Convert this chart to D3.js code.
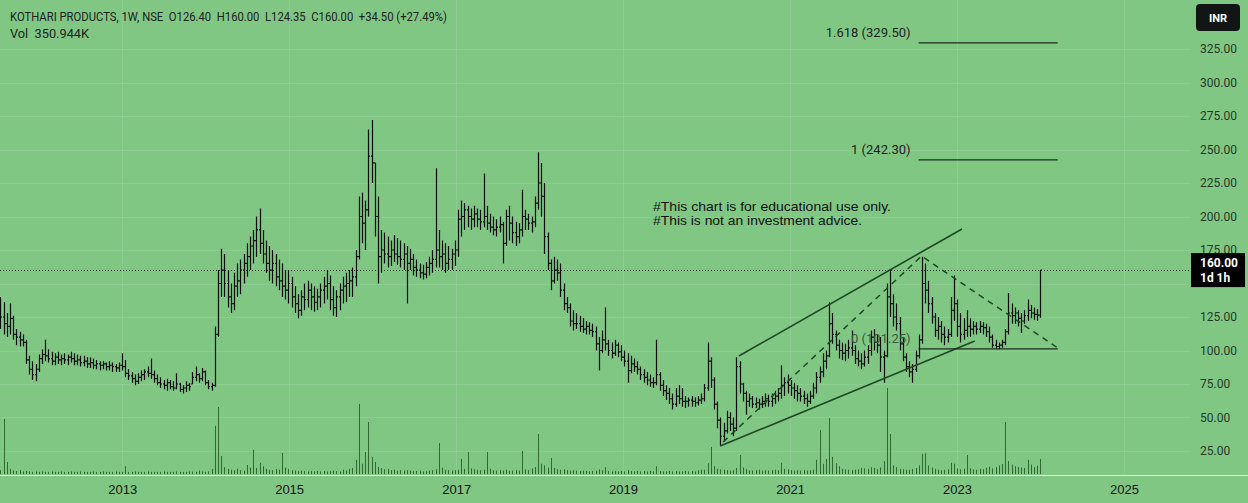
<!DOCTYPE html>
<html><head><meta charset="utf-8">
<script src="https://cdn.jsdelivr.net/npm/d3@7"></script>
<style>
html,body{margin:0;padding:0;background:#81c784;}
svg{display:block;}
</style></head>
<body>
<svg id="chart" width="1248" height="503"></svg>
<script>
// ---------- DATA (bi-weekly OHLC bars) ----------
const firstBarDate = new Date(2011, 6, 18);
const barStepDays = 14;
const highs = [
140,136,128,135,126,116,114,112,108,96,
92,90,97,101,108,101,99,98,99,97,
98,97,99,98,97,96,96,95,95,94,
93,92,92,91,92,91,90,91,98,93,
86,84,82,83,85,86,88,94,85,82,
80,78,79,78,77,83,76,74,77,76,
84,88,83,87,85,78,76,118,160,176,
172,160,150,158,165,168,172,180,185,190,
200,206,190,182,178,175,172,168,165,160,
160,155,148,142,145,150,152,150,148,146,
150,155,160,156,148,145,150,155,158,160,
162,175,215,218,212,265,272,240,215,190,
188,185,182,186,184,182,180,178,176,172,
168,165,164,166,170,175,236,190,182,180,
178,176,182,205,212,210,208,206,208,206,
205,232,208,202,200,198,200,196,205,208,
200,196,195,220,205,202,200,215,248,240,
225,188,168,170,168,165,150,140,135,130,
128,126,124,122,121,120,118,110,115,132,
108,106,108,106,104,100,98,96,94,92,
88,86,84,82,80,108,84,78,74,72,
68,72,74,72,66,65,66,65,66,68,
75,106,95,80,62,50,46,55,54,50,
95,92,76,70,68,66,65,64,66,68,
67,68,70,72,89,80,82,78,76,74,
72,70,68,70,76,84,88,98,100,136,
128,115,108,106,105,108,115,104,100,98,
100,104,115,116,112,110,100,150,160,142,
135,125,110,98,92,90,100,112,170,165,
152,140,128,125,122,118,116,140,156,138,
128,124,130,124,122,121,122,121,120,118,
112,108,106,108,116,143,135,132,130,128,
130,138,134,132,131,160];
const lows = [
116,112,110,112,108,104,103,103,90,82,
78,77,84,90,92,91,89,89,90,89,
90,89,91,89,89,88,88,87,87,86,
86,85,86,85,85,84,84,84,85,80,
78,76,74,75,77,78,80,79,76,74,
72,71,70,71,70,71,69,68,69,70,
75,77,76,77,74,71,70,73,110,140,
140,132,128,130,140,142,150,155,160,165,
170,172,165,158,152,150,148,145,140,138,
135,132,128,124,126,130,132,130,129,130,
132,135,138,130,126,125,130,135,136,140,
140,148,168,180,175,200,225,185,150,158,
165,162,163,166,164,162,160,135,160,156,
155,154,153,154,156,158,162,162,160,158,
160,160,163,170,185,190,192,190,192,192,
190,192,190,188,186,185,188,165,178,182,
180,178,180,185,190,190,188,192,205,200,
172,160,145,150,152,140,130,128,118,115,
116,114,113,112,112,110,100,85,98,100,
96,94,96,95,92,88,76,83,84,82,
78,76,74,73,72,74,70,66,63,60,
56,58,60,58,57,58,58,58,59,60,
62,70,72,56,42,29,32,38,40,36,
40,68,62,52,58,57,57,56,57,58,
58,58,60,62,64,66,68,66,64,62,
62,60,58,60,64,68,76,80,86,95,
105,100,94,93,92,94,96,90,88,86,
88,90,96,100,98,84,76,95,125,118,
115,100,92,84,80,76,84,94,105,135,
128,120,110,108,106,104,106,110,122,110,
106,108,110,110,112,112,113,112,110,106,
102,101,101,102,104,112,120,120,118,113,
120,122,124,123,122,124.35];
const closes = [
125,120,118,124,112,110,108,106,93,86,
82,86,94,97,96,94,92,95,93,94,
93,95,94,92,93,91,92,90,91,89,
90,89,90,88,89,88,87,89,88,83,
81,79,77,80,82,84,83,82,79,76,
75,74,76,73,72,75,71,72,74,73,
80,82,79,84,76,73,74,112,150,160,
150,140,135,148,152,160,165,170,178,182,
190,180,172,165,160,165,155,152,148,145,
150,140,135,130,140,138,145,140,136,140,
145,148,150,138,132,140,145,148,150,152,
155,170,200,195,205,245,240,200,170,175,
172,170,175,172,170,168,172,165,168,162,
160,158,157,162,165,168,175,170,172,165,
168,172,175,198,200,205,200,198,202,198,
196,200,195,192,190,192,194,180,200,195,
188,185,190,200,198,195,196,210,225,215,
185,165,152,160,158,145,135,132,122,120,
120,118,116,118,115,114,105,100,108,105,
100,98,104,99,95,92,85,90,88,86,
82,80,78,76,76,82,74,70,68,64,
60,66,64,62,62,63,62,61,63,64,
72,92,78,60,48,36,40,50,45,42,
88,75,68,62,64,60,61,60,62,64,
62,64,66,68,74,76,74,72,70,68,
66,64,62,66,72,80,84,92,96,120,
112,104,100,98,100,102,100,94,92,90,
95,100,110,106,104,95,96,140,135,125,
120,105,95,88,84,86,96,108,150,145,
135,125,115,118,112,110,112,130,135,118,
112,115,118,116,118,116,118,117,114,110,
104,103,104,106,114,128,126,128,124,122,
126,130,128,127,126.4,160];
const firstOpen = 130;
const volumesK = [
90,1280,280,120,80,70,90,60,70,60,
50,60,50,60,50,50,60,50,50,60,
50,50,60,50,50,60,50,50,50,60,
50,50,60,50,50,50,60,50,50,180,
50,50,60,50,50,50,60,50,50,50,
50,60,50,50,50,60,50,50,50,60,
60,50,80,60,50,60,120,1120,1560,420,
160,120,100,90,120,90,80,210,150,560,
140,260,180,120,100,90,120,100,490,150,
120,90,80,70,80,70,60,70,60,70,
60,70,60,70,80,70,60,100,80,120,
140,330,1630,240,510,1210,400,280,160,140,
110,120,90,100,80,90,80,90,80,70,
70,80,60,70,80,90,110,720,150,100,
90,80,90,100,350,120,510,130,110,100,
90,100,510,120,90,80,90,80,100,80,
80,90,80,535,110,90,130,160,930,240,
200,150,370,140,120,100,110,90,80,90,
80,70,80,70,60,70,80,110,90,160,
70,60,70,60,70,60,90,70,60,70,
60,70,60,70,60,180,70,60,60,70,
60,70,60,60,70,60,70,60,90,100,
100,250,630,180,120,110,100,90,80,90,
140,440,150,110,90,80,90,100,80,90,
80,90,100,90,260,120,110,90,80,90,
80,90,80,90,100,330,1020,240,350,1300,
400,250,180,120,110,100,90,100,110,150,
130,120,160,140,120,150,300,2000,930,200,
160,120,110,100,100,120,140,200,470,480,
200,150,120,100,90,100,110,260,240,130,
110,120,440,130,110,100,120,110,150,170,
130,160,200,230,1210,300,220,180,160,150,
140,330,220,160,190,351];

const gridTicks = [25,50,75,100,125,150,175,200,225,250,275,300,325];
// 150.00 is hidden behind the last-price label in the reference
const axisLabelTicks = [25,50,75,100,125,175,200,225,250,275,300,325];
const yearTicks = [2013,2015,2017,2019,2021,2023,2025];
const lastPrice = 160.00;
const fibLevels = [
  {label: "0 (101.25)", value: 101.25},
  {label: "1 (242.30)", value: 242.30},
  {label: "1.618 (329.50)", value: 329.50}
];
const fibStart = new Date(2022, 6, 17), fibEnd = new Date(2024, 2, 17);
const channelUpper = [[new Date(2020,4,22), 95.9],[new Date(2023,0,23), 190.7]];
const channelLower = [[new Date(2020,2,1), 28.7],[new Date(2023,2,20), 107.1]];
const dashedTriangle = [[new Date(2020,2,14), 31.7],[new Date(2022,6,30), 170.5],[new Date(2024,2,17), 101.9]];
const headerText = "KOTHARI PRODUCTS, 1W, NSE  O126.40  H160.00  L124.35  C160.00  +34.50 (+27.49%)";
const volText = "Vol  350.944K";
const noteLines = [
  {text: "#This chart is for educational use only.", width: 238},
  {text: "#This is not an investment advice.", width: 209}
];

// ---------- SCALES ----------
const W = 1248, H = 503, plotRight = 1190, plotBottom = 475;
const x = d3.scaleTime().domain([new Date(2011,6,16), new Date(2025,0,1)]).range([0, 1124]);
const y = d3.scaleLinear().domain([25, 325]).range([451, 49]);
const yv = d3.scaleLinear().domain([0, 2000]).range([474, 388]);

const svg = d3.select("#chart");
svg.append("rect").attr("width", W).attr("height", H).attr("fill", "#81c784");
svg.append("defs").append("clipPath").attr("id","plotclip")
  .append("rect").attr("x",0).attr("y",0).attr("width",plotRight).attr("height",plotBottom);

// grid
const grid = svg.append("g").attr("stroke", "#ffffff").attr("stroke-opacity", 0.10).attr("shape-rendering","crispEdges");
grid.selectAll("line.h").data(gridTicks).join("line").attr("class","h")
  .attr("x1",0).attr("x2",plotRight).attr("y1",d=>Math.round(y(d))+0.5).attr("y2",d=>Math.round(y(d))+0.5);
grid.selectAll("line.v").data(yearTicks).join("line").attr("class","v")
  .attr("y1",0).attr("y2",plotBottom)
  .attr("x1",d=>Math.round(x(new Date(d,0,1)))+0.5).attr("x2",d=>Math.round(x(new Date(d,0,1)))+0.5);

// separator line above time axis
svg.append("line").attr("x1",0).attr("x2",W).attr("y1",475.5).attr("y2",475.5)
  .attr("stroke","#e4f4e4").attr("stroke-width",1);

const plot = svg.append("g").attr("clip-path","url(#plotclip)");

// bars data
const bars = highs.map((h,i) => {
  const prev = i === 0 ? firstOpen : closes[i-1];
  return {date: d3.timeDay.offset(firstBarDate, i*barStepDays), high: h, low: lows[i], close: closes[i],
          open: Math.max(lows[i], Math.min(h, prev)), vol: volumesK[i]};
});

// volume
plot.append("g").selectAll("rect").data(bars).join("rect")
  .attr("x", d => Math.round(x(d.date)))
  .attr("width", 1)
  .attr("y", d => yv(d.vol))
  .attr("height", d => yv(0) - yv(d.vol))
  .attr("fill", "#2f6a31");

// last price dotted line
plot.append("line").attr("x1",0).attr("x2",plotRight)
  .attr("y1",Math.round(y(lastPrice))+0.5).attr("y2",Math.round(y(lastPrice))+0.5)
  .attr("stroke","#1d3320").attr("stroke-width",1).attr("stroke-dasharray","1,2");

// OHLC bars
plot.append("g").selectAll("path").data(bars).join("path")
  .attr("d", d => {
    const cx = Math.round(x(d.date)) + 0.5;
    return `M${cx},${y(d.high)}V${y(d.low)}M${cx-1.5},${y(d.open)}H${cx}M${cx},${y(d.close)}H${cx+1.5}`;
  })
  .attr("stroke", "#0b0f0b").attr("stroke-width", 1.2).attr("fill","none");

// drawings
const line = d3.line().x(d => x(d[0])).y(d => y(d[1]));
const drawColor = "#1f4722";
plot.append("path").attr("d", line(channelUpper)).attr("stroke", drawColor).attr("stroke-width",1.6).attr("fill","none");
plot.append("path").attr("d", line(channelLower)).attr("stroke", drawColor).attr("stroke-width",1.6).attr("fill","none");
plot.append("path").attr("d", line(dashedTriangle)).attr("stroke", drawColor).attr("stroke-width",1.5)
  .attr("stroke-dasharray","6,5").attr("fill","none");

// fib levels
const fib = plot.append("g");
fib.selectAll("line").data(fibLevels).join("line")
  .attr("x1", x(fibStart)).attr("x2", x(fibEnd))
  .attr("y1", d => y(d.value)).attr("y2", d => y(d.value))
  .attr("stroke", "#1a2e1a").attr("stroke-width", 1.2);
fib.selectAll("text").data(fibLevels).join("text")
  .attr("x", x(fibStart) - 8).attr("y", d => y(d.value) - 6)
  .attr("text-anchor","end")
  .attr("font-family","Roboto, 'Liberation Sans', sans-serif").attr("font-size",13)
  .attr("fill", (d,i) => i === 0 ? "#3a5a3b" : "#1a1f1a")
  .text(d => d.label);

// note text
svg.append("g").selectAll("text").data(noteLines).join("text")
  .attr("x", 653).attr("y", (d,i) => 211 + i*13.5)
  .attr("font-family","'Liberation Sans', Arial, sans-serif").attr("font-size",13)
  .attr("textLength", d => d.width).attr("lengthAdjust","spacingAndGlyphs")
  .attr("fill","#111").text(d => d.text);

// header
svg.append("text").attr("x",10).attr("y",21).attr("font-family","Roboto, 'Liberation Sans', sans-serif")
  .attr("font-size",13).attr("fill","#1c211c").style("white-space","pre")
  .attr("textLength",437).attr("lengthAdjust","spacingAndGlyphs").text(headerText);
svg.append("text").attr("x",10).attr("y",38).attr("font-family","Roboto, 'Liberation Sans', sans-serif")
  .attr("font-size",13).attr("fill","#1c211c").style("white-space","pre")
  .attr("textLength",79).attr("lengthAdjust","spacingAndGlyphs").text(volText);

// axes
const yAxis = d3.axisRight(y).tickValues(axisLabelTicks).tickSize(0).tickPadding(0).tickFormat(d3.format(".2f"));
const gy = svg.append("g").attr("transform","translate(1200,0)").call(yAxis);
gy.select(".domain").remove();
gy.selectAll("text").attr("font-family","Roboto, 'Liberation Sans', sans-serif").attr("font-size",12).attr("fill","#233a24");

const xAxis = d3.axisBottom(x).tickValues(yearTicks.map(yy => new Date(yy,0,1))).tickSize(0).tickPadding(3)
  .tickFormat(d3.timeFormat("%Y"));
const gx = svg.append("g").attr("transform","translate(0,482)").call(xAxis);
gx.select(".domain").remove();
gx.selectAll("text").attr("font-family","'Liberation Sans Narrow', 'Liberation Sans', sans-serif").attr("font-size",13).attr("fill","#111");

// INR box
svg.append("rect").attr("x",1196).attr("y",4).attr("width",44).attr("height",27).attr("rx",4).attr("fill","#111614");
svg.append("text").attr("x",1218).attr("y",22).attr("text-anchor","middle").attr("font-family","Roboto, sans-serif")
  .attr("font-size",11).attr("font-weight","bold").attr("fill","#ffffff").text("INR");

// last price label
const ly = y(lastPrice);
svg.append("rect").attr("x",1191).attr("y",ly-17).attr("width",54).attr("height",34).attr("fill","#000");
svg.append("text").attr("x",1200).attr("y",ly-3).attr("font-family","Roboto, sans-serif").attr("font-size",12)
  .attr("font-weight","bold").attr("fill","#fff").text(d3.format(".2f")(lastPrice));
svg.append("text").attr("x",1200).attr("y",ly+12).attr("font-family","Roboto, sans-serif").attr("font-size",12)
  .attr("font-weight","bold").attr("fill","#fff").text("1d 1h");
</script>
</body></html>
